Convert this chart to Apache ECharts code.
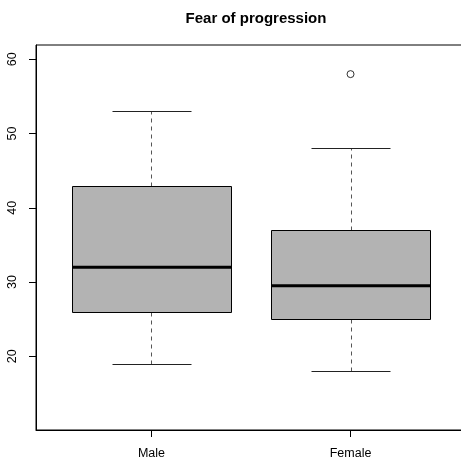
<!DOCTYPE html>
<html>
<head>
<meta charset="utf-8">
<script src="https://cdn.jsdelivr.net/npm/echarts@6/dist/echarts.min.js"></script>
<style>
  html, body { margin: 0; padding: 0; background: #ffffff; }
  #chart { width: 461px; height: 461px; }
</style>
</head>
<body>
<div id="chart"></div>
<script>
// Five-number summaries per group
const categories = ['Male', 'Female'];
const whiskerLow = [19, 18];
const lowerQuartile = [26, 25];
const medians = [32, 29.5];
const upperQuartile = [43, 37];
const whiskerHigh = [53, 48];
// Points beyond the whiskers: group index (0-based) and value
const outlierGroup = [1];
const outlierValue = [58];
const yTicks = [20, 30, 40, 50, 60];

const FONT = '"Liberation Sans", Arial, Helvetica, sans-serif';
const BOX_HALF = 0.4;    // half box width in x units
const CAP_HALF = 0.2;    // half whisker-cap width

const boxData = categories.map((c, i) => [
  i + 1, whiskerLow[i], lowerQuartile[i], medians[i], upperQuartile[i], whiskerHigh[i]
]);
const outlierData = outlierGroup.map((g, k) => [g + 1, outlierValue[k]]);

const snap = v => Math.round(v) + 0.5;

function renderBox(params, api) {
  const x = api.value(0);
  const lo = api.value(1), q1 = api.value(2), med = api.value(3),
        q3 = api.value(4), hi = api.value(5);
  const cx = snap(api.coord([x, med])[0]);
  const left = snap(api.coord([x - BOX_HALF, med])[0]);
  const right = snap(api.coord([x + BOX_HALF, med])[0]);
  const capL = snap(api.coord([x - CAP_HALF, med])[0]);
  const capR = snap(api.coord([x + CAP_HALF, med])[0]);
  const y = v => snap(api.coord([x, v])[1]);
  const yLo = y(lo), yQ1 = y(q1), yMed = api.coord([x, med])[1], yQ3 = y(q3), yHi = y(hi);
  const dash = { stroke: '#555', lineWidth: 1, lineDash: [4, 4] };
  const solid = { stroke: '#222', lineWidth: 1 };
  return {
    type: 'group',
    children: [
      { type: 'line', shape: { x1: cx, y1: yQ3, x2: cx, y2: yHi }, style: dash },
      { type: 'line', shape: { x1: cx, y1: yQ1, x2: cx, y2: yLo }, style: dash },
      { type: 'line', shape: { x1: capL, y1: yHi, x2: capR, y2: yHi }, style: solid },
      { type: 'line', shape: { x1: capL, y1: yLo, x2: capR, y2: yLo }, style: solid },
      { type: 'rect', shape: { x: left, y: yQ3, width: right - left, height: yQ1 - yQ3 },
        style: { fill: '#b3b3b3', stroke: '#000', lineWidth: 1 } },
      { type: 'line', shape: { x1: left, y1: yMed, x2: right, y2: yMed },
        style: { stroke: '#000', lineWidth: 3 } }
    ]
  };
}

const chart = echarts.init(document.getElementById('chart'), null, { renderer: 'canvas' });
chart.setOption({
  animation: false,
  backgroundColor: '#ffffff',
  title: {
    text: 'Fear of progression',
    left: 251, top: 6, textAlign: 'center',
    textStyle: { fontFamily: FONT, fontSize: 15, fontWeight: 'bold', color: '#000' }
  },
  grid: {
    left: 36, top: 45, width: 430, height: 385,
    outerBoundsMode: 'none', containLabel: false,
    show: true, borderColor: '#000', borderWidth: 1, backgroundColor: 'transparent'
  },
  xAxis: {
    type: 'value', min: 0.42, max: 2.58,
    splitLine: { show: false },
    axisLine: { show: true, onZero: false, lineStyle: { color: '#000', width: 1 } },
    axisTick: { show: true, length: 7, customValues: [1, 2], lineStyle: { color: '#000' } },
    axisLabel: {
      customValues: [1, 2], margin: 17,
      formatter: v => categories[Math.round(v) - 1] || '',
      fontFamily: FONT, fontSize: 12.5, color: '#000'
    }
  },
  yAxis: {
    type: 'value', min: 10.08, max: 61.92,
    splitLine: { show: false },
    axisLine: { show: true, onZero: false, lineStyle: { color: '#000', width: 1 } },
    axisTick: { show: true, length: 7, customValues: yTicks, lineStyle: { color: '#000' } },
    axisLabel: {
      customValues: yTicks, rotate: 90, margin: 17,
      fontFamily: FONT, fontSize: 12.5, color: '#000'
    }
  },
  series: [
    {
      type: 'custom',
      renderItem: renderBox,
      data: boxData,
      encode: { x: 0, y: [1, 2, 3, 4, 5] },
      clip: false
    },
    {
      type: 'scatter',
      data: outlierData,
      symbol: 'circle',
      symbolSize: 7,
      itemStyle: { color: '#fff', borderColor: '#000', borderWidth: 1 }
    }
  ]
});
</script>
</body>
</html>
